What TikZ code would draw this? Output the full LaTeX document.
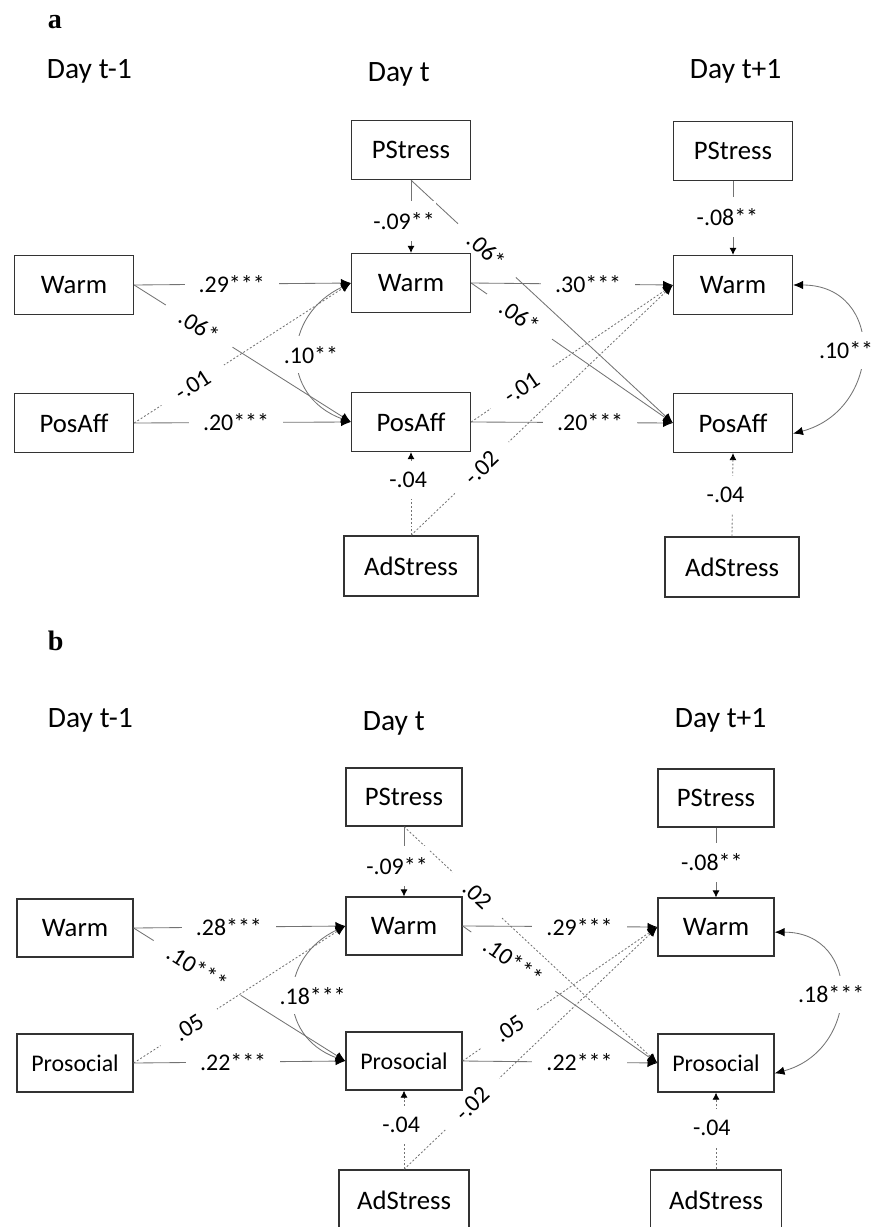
\documentclass[tikz,border=0pt]{standalone}
\usepackage{fontspec}
\setmainfont{Carlito}
\newfontfamily\panelfont{Liberation Serif}
\usetikzlibrary{arrows.meta}

\begin{document}
\begin{tikzpicture}[x=0.025cm, y=0.025cm,
    varbox/.style={draw=black!80, line width=0.9pt, fill=white, inner sep=0pt,
        minimum width=2.975cm, minimum height=1.475cm, font=\fontsize{19}{19}\selectfont},
    daylab/.style={anchor=base west, font=\fontsize{21}{21}\selectfont},
    panel/.style={anchor=base west, font=\panelfont\bfseries\fontsize{20}{20}\selectfont},
    lab/.style={fill=white, inner xsep=10pt, inner ysep=1pt, font=\fontsize{17}{17}\selectfont},
    slab/.style={lab, sloped, inner xsep=13pt},
    vlab/.style={lab, inner xsep=1pt, inner ysep=8pt},
    clab/.style={lab, inner xsep=2pt, inner ysep=7pt},
    link/.style={draw=black!55, line width=0.6pt, -{Latex[length=7pt,width=6pt,color=black]}},
    dlink/.style={link, dash pattern=on 1.4pt off 1.4pt},
    vlink/.style={link, -{Latex[length=5pt,width=5pt,color=black]}},
    dvlink/.style={dlink, -{Latex[length=5pt,width=5pt,color=black]}},
    twoway/.style={draw=black!55, line width=0.6pt,
        {Latex[length=7pt,width=6pt,color=black]}-{Latex[length=7pt,width=6pt,color=black]}}]
    \useasboundingbox (0,0) rectangle (881,-1227);

    % Panel a: headings
    \node[panel] (pa) at (43,-29) {a};
    \node[daylab] (aT0) at (42,-79) {Day t-1};
    \node[daylab] (aT1) at (363,-82) {Day t};
    \node[daylab] (aT2) at (685,-79) {Day t+1};

    % Panel a: variables
    \node[varbox] (aW0) at (74,-285) {Warm};
    \node[varbox] (aP0) at (74,-423) {PosAff};
    \node[varbox] (aS1) at (411,-150) {PStress};
    \node[varbox] (aW1) at (411,-283) {Warm};
    \node[varbox] (aP1) at (411,-422) {PosAff};
    \node[varbox, minimum width=3.35cm, minimum height=1.5cm] (aD1) at (411,-566) {AdStress};
    \node[varbox] (aS2) at (733,-151) {PStress};
    \node[varbox] (aW2) at (733,-285) {Warm};
    \node[varbox] (aP2) at (733,-423) {PosAff};
    \node[varbox, minimum width=3.35cm, minimum height=1.5cm] (aD2) at (732,-567) {AdStress};

    % Panel a: paths from day t-1
    \draw[link] (aW0.east) -- node[slab, pos=0.3] {.06*} (aP1.west);
    \draw[dlink] (aP0.east) -- node[slab, pos=0.27] {-.01} (aW1.west);
    \draw[link] (aW0.east) -- node[lab, pos=0.45] {.29***} (aW1.west);
    \draw[link] (aP0.east) -- node[lab, pos=0.47] {.20***} (aP1.west);

    % Panel a: paths from day t
    \draw[link] (aS1.south) -- node[slab, pos=0.29] {.06*} (aP2.west);
    \draw[link] (aW1.east) -- node[slab, pos=0.24] {.06*} (aP2.west);
    \draw[dlink] (aP1.east) -- node[slab, pos=0.25] {-.01} (aW2.west);
    \draw[dlink] (aD1.north) -- node[slab, pos=0.27] {-.02} (aW2.west);
    \draw[link] (aW1.east) -- node[lab, pos=0.58] {.30***} (aW2.west);
    \draw[link] (aP1.east) -- node[lab, pos=0.59] {.20***} (aP2.west);

    % Panel a: stress effects
    \draw[vlink] (aS1.south) -- node[vlab, pos=0.56, xshift=-5pt] {-.09**} (aW1.north);
    \draw[dvlink] (aD1.north) -- node[vlab, pos=0.67, xshift=-2pt] {-.04} (aP1.south);
    \draw[vlink] (aS2.south) -- node[vlab, pos=0.49, xshift=-4pt] {-.08**} (aW2.north);
    \draw[dvlink] (aD2.north) -- node[vlab, pos=0.5, xshift=-5pt] {-.04} (aP2.south);

    % Panel a: covariances
    \draw[twoway] (aW1.west) to[out=205, in=160, looseness=1.4] node[clab, xshift=9pt] {.10**} (aP1.west);
    \draw[twoway] (aW2.east) to[out=0, in=15, looseness=1.6] node[clab, xshift=-11pt] {.10**} (aP2.-10);

    % Panel b: headings
    \node[panel] (pb) at (43,-650) {b};
    \node[daylab] (bT0) at (43,-727) {Day t-1};
    \node[daylab] (bT1) at (358,-730) {Day t};
    \node[daylab] (bT2) at (670,-727) {Day t+1};

    % Panel b: variables
    \node[varbox, minimum width=2.9cm, minimum height=1.45cm] (bW0) at (75,-928) {Warm};
    \node[varbox, minimum width=2.9cm, minimum height=1.45cm, font=\fontsize{17}{17}\selectfont] (bP0) at (75,-1063) {Prosocial};
    \node[varbox, minimum width=2.9cm, minimum height=1.45cm] (bS1) at (404,-797) {PStress};
    \node[varbox, minimum width=2.9cm, minimum height=1.45cm] (bW1) at (404,-926) {Warm};
    \node[varbox, minimum width=2.9cm, minimum height=1.45cm, font=\fontsize{17}{17}\selectfont] (bP1) at (404,-1061) {Prosocial};
    \node[varbox, minimum width=3.25cm, minimum height=1.5cm] (bD1) at (404,-1200) {AdStress};
    \node[varbox, minimum width=2.9cm, minimum height=1.45cm] (bS2) at (716,-798) {PStress};
    \node[varbox, minimum width=2.9cm, minimum height=1.45cm] (bW2) at (716,-927) {Warm};
    \node[varbox, minimum width=2.9cm, minimum height=1.45cm, font=\fontsize{17}{17}\selectfont] (bP2) at (716,-1063) {Prosocial};
    \node[varbox, minimum width=3.275cm, minimum height=1.5cm] (bD2) at (716,-1200) {AdStress};

    % Panel b: paths from day t-1
    \draw[link] (bW0.east) -- node[slab, pos=0.3] {.10***} (bP1.west);
    \draw[dlink] (bP0.east) -- node[slab, pos=0.26] {.05} (bW1.west);
    \draw[link] (bW0.east) -- node[lab, pos=0.45] {.28***} (bW1.west);
    \draw[link] (bP0.east) -- node[lab, pos=0.47] {.22***} (bP1.west);

    % Panel b: paths from day t
    \draw[dlink] (bS1.south) -- node[slab, pos=0.29] {.02} (bP2.west);
    \draw[link] (bW1.east) -- node[slab, pos=0.26] {.10***} (bP2.west);
    \draw[dlink] (bP1.east) -- node[slab, pos=0.24] {.05} (bW2.west);
    \draw[dlink] (bD1.north) -- node[slab, pos=0.27] {-.02} (bW2.west);
    \draw[link] (bW1.east) -- node[lab, pos=0.6] {.29***} (bW2.west);
    \draw[link] (bP1.east) -- node[lab, pos=0.6] {.22***} (bP2.west);

    % Panel b: stress effects
    \draw[vlink] (bS1.south) -- node[vlab, pos=0.56, xshift=-5pt] {-.09**} (bW1.north);
    \draw[dvlink] (bD1.north) -- node[vlab, pos=0.56, xshift=-2pt] {-.04} (bP1.south);
    \draw[vlink] (bS2.south) -- node[vlab, pos=0.5, xshift=-3pt] {-.08**} (bW2.north);
    \draw[dvlink] (bD2.north) -- node[vlab, pos=0.54, xshift=-3pt] {-.04} (bP2.south);

    % Panel b: covariances
    \draw[twoway] (bW1.west) to[out=205, in=160, looseness=1.4] node[clab, xshift=13pt] {.18***} (bP1.west);
    \draw[twoway] (bW2.-5) to[out=0, in=15, looseness=1.6] node[clab, xshift=-6pt] {.18***} (bP2.-10);
\end{tikzpicture}
\end{document}
